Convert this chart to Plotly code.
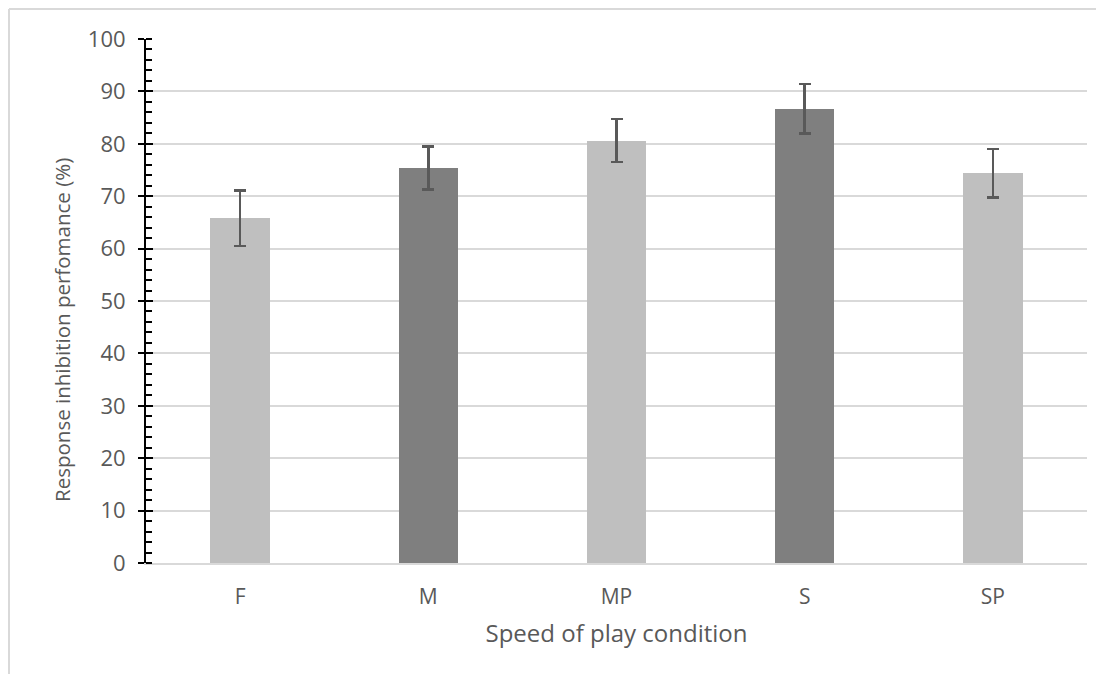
import plotly.graph_objects as go

categories = ["F", "M", "MP", "S", "SP"]
values = [65.8, 75.4, 80.6, 86.7, 74.4]
errors = [5.3, 4.1, 4.1, 4.75, 4.6]
bar_colors = ["#BFBFBF", "#7F7F7F", "#BFBFBF", "#7F7F7F", "#BFBFBF"]
y_ticks = [0, 10, 20, 30, 40, 50, 60, 70, 80, 90, 100]
y_title = "Response inhibition perfomance (%)"
x_title = "Speed of play condition"

# page has an 8px body margin; figure coordinates are page coords minus 8
W, H = 1088, 666
L, R, T, B = 138, 9, 31, 111
pw, ph = W - L - R, H - T - B

FONT = "Open Sans"
TXT = "#595959"

fig = go.Figure()
fig.add_trace(go.Bar(
    x=categories, y=values, width=0.315,
    marker=dict(color=bar_colors, line=dict(width=0)),
    error_y=dict(type="data", array=errors, visible=True,
                 color="#595959", thickness=2.5, width=6),
    showlegend=False,
))
# invisible trace on overlay axis for crossing major ticks
fig.add_trace(go.Scatter(x=categories, y=values, yaxis="y2", mode="none",
                         showlegend=False, hoverinfo="skip"))

fig.update_layout(
    width=W, height=H,
    margin=dict(l=L, r=R, t=T, b=B),
    paper_bgcolor="white", plot_bgcolor="white",
    font=dict(family=FONT, color=TXT, size=21),
    bargap=0,
    xaxis=dict(
        showline=True, linecolor="#D9D9D9", linewidth=2,
        ticks="", showgrid=False,
        tickfont=dict(size=21, color=TXT),
        title=dict(text=x_title, font=dict(size=24, color=TXT), standoff=16),
        ticklabelstandoff=14,
    ),
    yaxis=dict(
        range=[0, 100], tickvals=y_ticks,
        showline=True, linecolor="black", linewidth=2,
        ticks="outside", ticklen=6, tickwidth=2, tickcolor="black",
        minor=dict(ticks="inside", ticklen=6, tickwidth=2, tickcolor="black", dtick=2, showgrid=False),
        showgrid=True, gridcolor="#D9D9D9", gridwidth=2,
        zeroline=False,
        tickfont=dict(size=22, color=TXT),
        ticklabelstandoff=8,
    ),
    yaxis2=dict(
        overlaying="y", side="left", range=[0, 100], tickvals=y_ticks,
        ticks="inside", ticklen=7, tickwidth=2, tickcolor="black",
        showticklabels=False, showgrid=False, showline=False, zeroline=False,
    ),
)

# y-axis title placed like the original (slightly below the plot centre)
fig.add_annotation(text=y_title, xref="paper", yref="paper",
                   x=(54 - L) / pw, y=(H - B - 322) / ph,
                   xanchor="center", yanchor="middle", textangle=-90,
                   showarrow=False, font=dict(size=20.5, color=TXT))

# outer chart border (top and left visible)
bx = (1 - L) / pw
by = (H - B - 1) / ph
fig.add_shape(type="line", xref="paper", yref="paper",
              x0=bx, x1=(W - L + 10) / pw, y0=by, y1=by,
              line=dict(color="#D9D9D9", width=2))
fig.add_shape(type="line", xref="paper", yref="paper",
              x0=bx, x1=bx, y0=by, y1=-(B + 10) / ph,
              line=dict(color="#D9D9D9", width=2))

fig.write_html("out.html")
